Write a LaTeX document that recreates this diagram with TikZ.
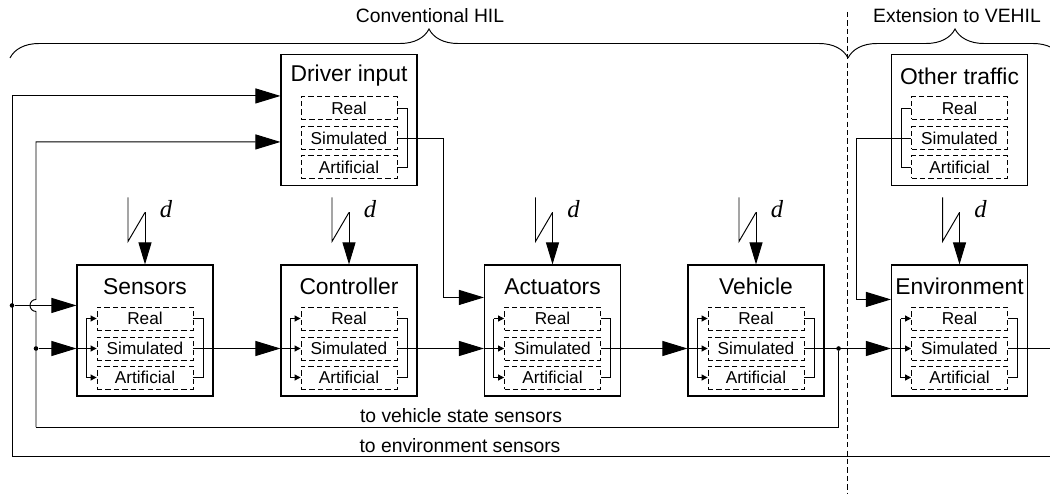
\documentclass[tikz,border=0pt]{standalone}
\usepackage{fontspec}
\setmainfont{Liberation Sans}
\newfontfamily\dfont{Liberation Serif}
\usetikzlibrary{positioning,arrows.meta,calc,decorations.pathreplacing}

% one block with its three modes
\newcommand{\simblock}[4]{%
  \node[block] (#1) at (#3,#4) {};
  \node[blocktitle] (#1-t) at ($(#1.north)+(0,22)$) {#2};
  \node[mode] (#1-r) at ($(#1.center)+(0,-12)$) {Real};
  \node[mode] (#1-s) at ($(#1.center)+(0,18)$) {Simulated};
  \node[mode] (#1-a) at ($(#1.center)+(0,47)$) {Artificial};
}
% output side: the simulated row runs through
\newcommand{\outbracket}[1]{%
  \draw[wire] (#1-r.east) -- ++(10,0) |- (#1-a.east);
}
% input side: one small arrow per mode
\newcommand{\inbracket}[1]{%
  \coordinate (#1-in) at ($(#1.west |- #1-s)+(10,0)$);
  \draw[wire] (#1.west |- #1-s) -- (#1-in);
  \draw[wire] (#1-in |- #1-r) -- (#1-in |- #1-a);
  \foreach \m in {r,s,a} \draw[smallarrow] (#1-in |- #1-\m) -- (#1-\m.west);
}

\begin{document}
\begin{tikzpicture}[
    x=0.02cm, y=-0.02cm,
    wire/.style={line width=0.55pt},
    block/.style={draw, line width=0.65pt, minimum width=2.72cm, minimum height=2.62cm, inner sep=0pt},
    blocktitle/.style={font=\fontsize{13}{15}\selectfont, inner sep=0pt},
    mode/.style={draw, dash pattern=on 3pt off 1.8pt, line width=0.5pt, minimum width=1.92cm, minimum height=0.46cm, inner sep=0pt, font=\fontsize{9.8}{11}\selectfont},
    bigarrow/.style={wire, -{Triangle[length=5mm,width=3mm]}},
    smallarrow/.style={wire, -{Triangle[length=1.2mm,width=1.2mm]}},
    dist/.style={wire, -{Triangle[length=4.4mm,width=2.6mm]}},
    dot/.style={circle, fill, inner sep=0pt, minimum size=2.6pt},
    note/.style={font=\fontsize{11}{13}\selectfont, inner sep=0pt},
    dlabel/.style={font=\dfont\itshape\fontsize{14}{16}\selectfont, inner sep=0pt},
    brace/.style={decorate, decoration={brace, amplitude=0.58cm}, line width=0.55pt},
    sepline/.style={line width=0.5pt, dash pattern=on 3pt off 1.8pt}
  ]
  \useasboundingbox (0,0) rectangle (1050,493);

  % blocks
  \simblock{drv}{Driver input}{349}{120}
  \simblock{oth}{Other traffic}{959.5}{120}
  \simblock{sen}{Sensors}{145}{330.5}
  \simblock{con}{Controller}{349}{330.5}
  \simblock{act}{Actuators}{552.5}{330.5}
  \simblock{veh}{Vehicle}{756}{330.5}
  \simblock{env}{Environment}{959.5}{330.5}

  % brackets
  \foreach \b in {drv,sen,con,act,veh,env} {\outbracket{\b}}
  \foreach \b in {sen,con,act,veh,env} {\inbracket{\b}}
  \draw[wire] (oth-r.west) -- ++(-10,0) |- (oth-a.west);

  % disturbances
  \foreach \b in {sen,con,act,veh,env} {
    \draw[wire] ($(\b.north)+(-17,-67)$) -- ++(0,44) -- ($(\b.north)+(0,-52)$);
    \draw[dist] ($(\b.north)+(0,-52)$) -- (\b.north);
    \node[dlabel] (\b-d) at ($(\b.north)+(21,-55)$) {d};
  }

  % forward chain
  \coordinate (rim) at (1050,0);
  \draw[bigarrow] (sen-s.east) -- (con.west |- con-s);
  \draw[bigarrow] (con-s.east) -- (act.west |- act-s);
  \draw[bigarrow] (act-s.east) -- (veh.west |- veh-s);
  \draw[bigarrow] (veh-s.east) -- (env.west |- env-s);
  \node[dot] (vdot) at ($(veh.east |- veh-s)+(14,0)$) {};
  \draw[wire] (env-s.east) -- (rim |- env-s);

  % driver input to actuators
  \coordinate (actin) at ($(act.north west)+(0,33)$);
  \coordinate (drvturn) at ($(drv.east)+(26,0)$);
  \draw[bigarrow] (drv-s.east) -| (drvturn |- actin) -- (actin);

  % other traffic to environment
  \coordinate (envin) at ($(env.north west)+(0,35)$);
  \coordinate (othturn) at ($(oth.west)+(-34,0)$);
  \draw[bigarrow] (oth-s.west) -| (othturn |- envin) -- (envin);

  % feedback lines
  \coordinate (vsx) at (36,427);
  \coordinate (esx) at (12,456);
  \coordinate (senin) at ($(sen.north west)+(0,41)$);
  \coordinate (drvin1) at ($(drv.north west)+(0,42)$);
  \coordinate (drvin2) at ($(drv.north west)+(0,88)$);

  \draw[wire] (vdot) |- (vsx);
  \draw[bigarrow] (vsx) -- ($(vsx |- senin)+(0,6)$)
    arc[start angle=-90, end angle=-270, radius=0.12cm]
    -- (vsx |- drvin2) -- (drvin2);
  \node[dot] (vsdot) at (vsx |- sen-s) {};
  \draw[bigarrow] (vsdot) -- (sen.west |- sen-s);

  \draw[bigarrow] (rim |- esx) -- (esx) |- (drvin1);
  \node[dot] (esdot) at (esx |- senin) {};
  \draw[bigarrow] (esdot) -- (senin);

  \node[note] (vsl) at (461,416) {to vehicle state sensors};
  \node[note] (esl) at (460,446) {to environment sensors};

  % HIL / VEHIL split
  \coordinate (septop) at (847,12);
  \coordinate (sepbot) at (847,493);
  \draw[sepline] (septop) -- (sepbot);
  \draw[brace] (10,58) -- (848,58);
  \draw[brace] (848,58) -- (1062,58);
  \node[note] (hil) at (430,16) {Conventional HIL};
  \node[note] (vehil) at (957,16) {Extension to VEHIL};
\end{tikzpicture}
\end{document}
